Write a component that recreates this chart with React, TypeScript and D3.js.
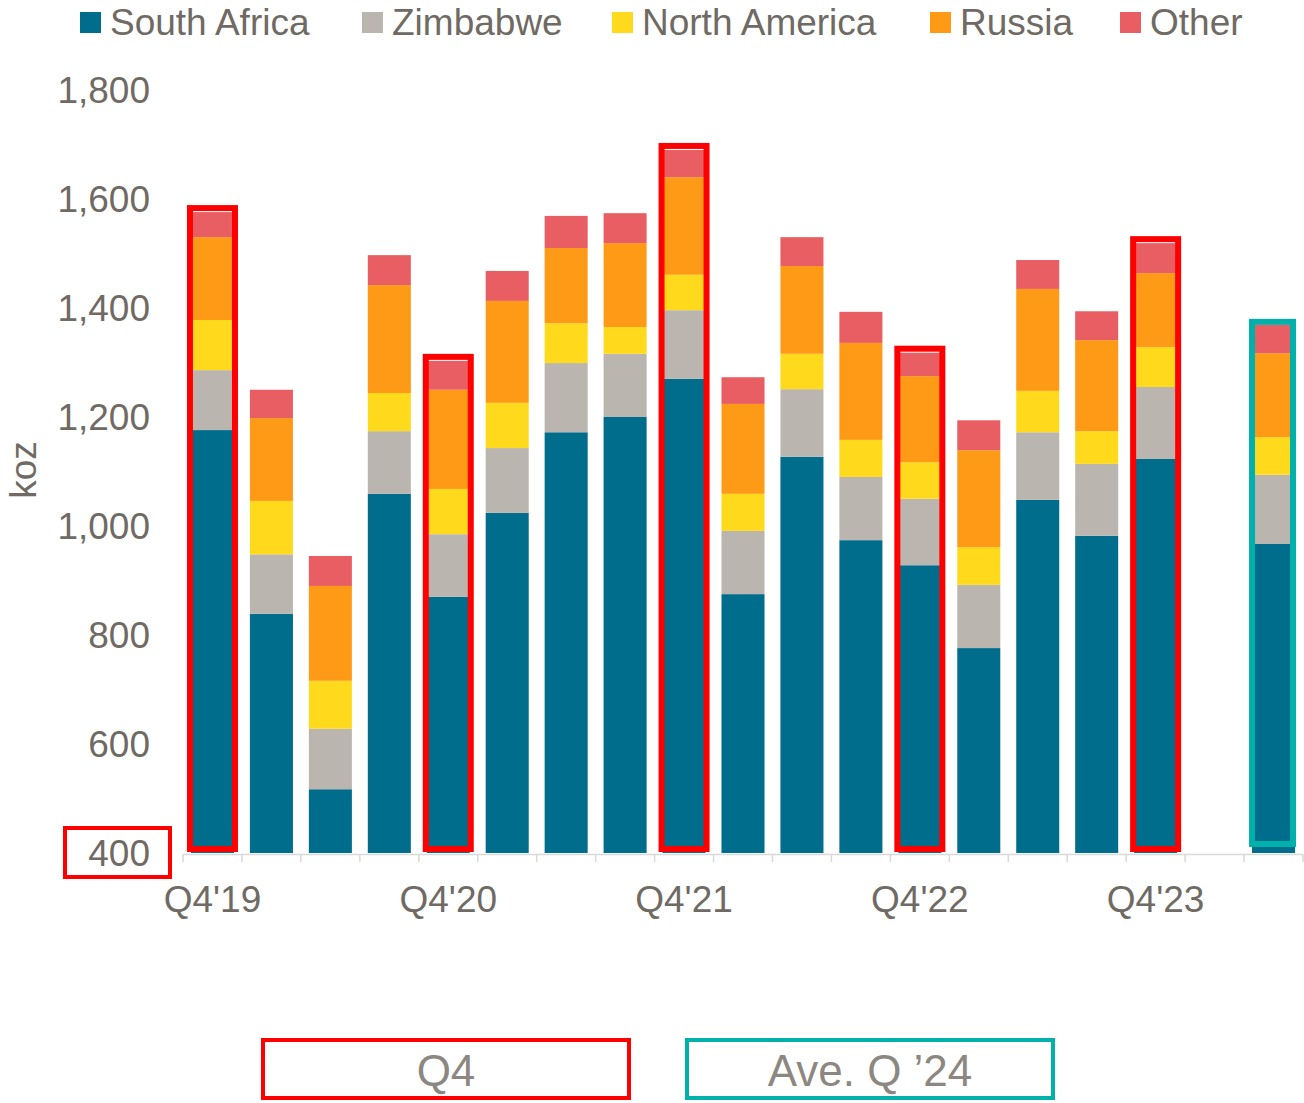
import React from "react";
import * as d3 from "d3";

const categories = ["Q4'19","Q1'20","Q2'20","Q3'20","Q4'20","Q1'21","Q2'21","Q3'21","Q4'21","Q1'22","Q2'22","Q3'22","Q4'22","Q1'23","Q2'23","Q3'23","Q4'23","gap","Ave. Q '24"];
const tickLabels = ["Q4'19","Q4'20","Q4'21","Q4'22","Q4'23"];
const seriesNames = ["South Africa","Zimbabwe","North America","Russia","Other"];
const seriesColors = ["#006D8C","#BAB6AF","#FFDA1C","#FF9A17","#E95E62"];

// segment sizes (koz); South Africa stacks from the 400 axis floor
const southAfrica = [1176,839,517,1059,870,1024,1172,1200,1270,875,1127,974,928,776,1048,982,1123,0,967];
const zimbabwe = [110,109,111,115,115,119,127,116,126,116,124,116,122,116,124,132,132,0,127];
const northAmerica = [92,98,88,70,83,83,73,49,65,68,65,68,67,69,76,60,73,0,69];
const russia = [152,152,174,198,182,187,138,154,179,165,161,178,158,178,187,167,136,0,154];
const other = [46,52,55,55,53,55,59,55,50,49,53,57,43,55,53,53,55,0,52];

const yTicks = [400,600,800,1000,1200,1400,1600,1800];
const q4Highlight = ["Q4'19","Q4'20","Q4'21","Q4'22","Q4'23"];
const aveHighlight = ["Ave. Q '24"];

const TEXT = "#6F6A63";
const FONT = "'Liberation Sans', Arial, sans-serif";

export default function App() {
  const W = 1304, H = 1103;
  const x = d3.scaleBand<string>().domain(categories).range([183, 1303]).paddingInner(0.27).paddingOuter(0.135);
  const y = d3.scaleLinear().domain([400, 1800]).range([853, 90]);
  const rows = categories.map((c, i) => ({
    cat: c,
    "South Africa": southAfrica[i] - 400 > 0 ? southAfrica[i] - 400 : 0,
    Zimbabwe: zimbabwe[i],
    "North America": northAmerica[i],
    Russia: russia[i],
    Other: other[i],
  }));
  const stack = d3.stack<any>().keys(seriesNames);
  const layers = stack(rows);
  const bw = x.bandwidth();
  const step = x.step();
  const first = x(categories[0])! - (step - bw) / 2;
  const boundaries = d3.range(categories.length + 1).map(k => first + k * step);
  const topOf = (i: number) => y(400 + layers[layers.length - 1][i][1]);

  const legendX = [80, 362, 612, 930, 1120];

  return (
    <svg width={W} height={H} style={{ position: "absolute", left: 0, top: 0, background: "#fff" }} fontFamily={FONT}>
      <rect width={W} height={H} fill="#fff" />
      {/* legend */}
      {seriesNames.map((s, i) => (
        <g key={s}>
          <rect x={legendX[i]} y={12} width={21} height={21} fill={seriesColors[i]} />
          <text x={legendX[i] + 30} y={35} fontSize={37} fill={TEXT}>{s}</text>
        </g>
      ))}
      {/* y labels */}
      {yTicks.map(t => (
        <text key={t} x={150} y={y(t) + 13} fontSize={37} fill={TEXT} textAnchor="end">{d3.format(",")(t)}</text>
      ))}
      <text transform={`translate(36,470) rotate(-90)`} fontSize={37} fill={TEXT} textAnchor="middle">koz</text>
      {/* bars */}
      {layers.map((layer, li) => (
        <g key={layer.key} fill={seriesColors[li]}>
          {layer.map((d, i) => (d[1] - d[0] > 0 ? (
            <rect key={i} x={x(categories[i])!} width={bw} y={y(400 + d[1])} height={y(400 + d[0]) - y(400 + d[1])} />
          ) : null))}
        </g>
      ))}
      {/* axis */}
      <line x1={183} x2={1303} y1={854.5} y2={854.5} stroke="#D9D9D9" strokeWidth={1.5} />
      {boundaries.map((b, k) => (
        <line key={k} x1={b} x2={b} y1={854} y2={862} stroke="#D9D9D9" strokeWidth={1.5} />
      ))}
      {tickLabels.map(t => (
        <text key={t} x={x(t)! + bw / 2} y={912} fontSize={37} fill={TEXT} textAnchor="middle">{t}</text>
      ))}
      {/* highlight boxes */}
      {q4Highlight.map(c => {
        const i = categories.indexOf(c);
        const cx = x(c)! + bw / 2;
        const top = topOf(i) - 4;
        return <rect key={c} x={cx - 22.5} y={top} width={45} height={849 - top} fill="none" stroke="#FF0000" strokeWidth={6} />;
      })}
      {aveHighlight.map(c => {
        const i = categories.indexOf(c);
        const cx = x(c)! + bw / 2;
        const top = topOf(i) - 3;
        return <rect key={c} x={cx - 21.5} y={top} width={41} height={844 - top} fill="none" stroke="#00B0AA" strokeWidth={6} />;
      })}
      <rect x={65} y={828} width={105} height={49} fill="none" stroke="#FF0000" strokeWidth={4} />
      {/* bottom legend */}
      <rect x={263} y={1040} width={366} height={58} fill="none" stroke="#FF0000" strokeWidth={4} />
      <text x={446} y={1086} fontSize={44} fill="#8C8780" textAnchor="middle">Q4</text>
      <rect x={687} y={1040} width={366} height={58} fill="none" stroke="#00B0AA" strokeWidth={4} />
      <text x={870} y={1086} fontSize={44} fill="#8C8780" textAnchor="middle">Ave. Q ’24</text>
    </svg>
  );
}
